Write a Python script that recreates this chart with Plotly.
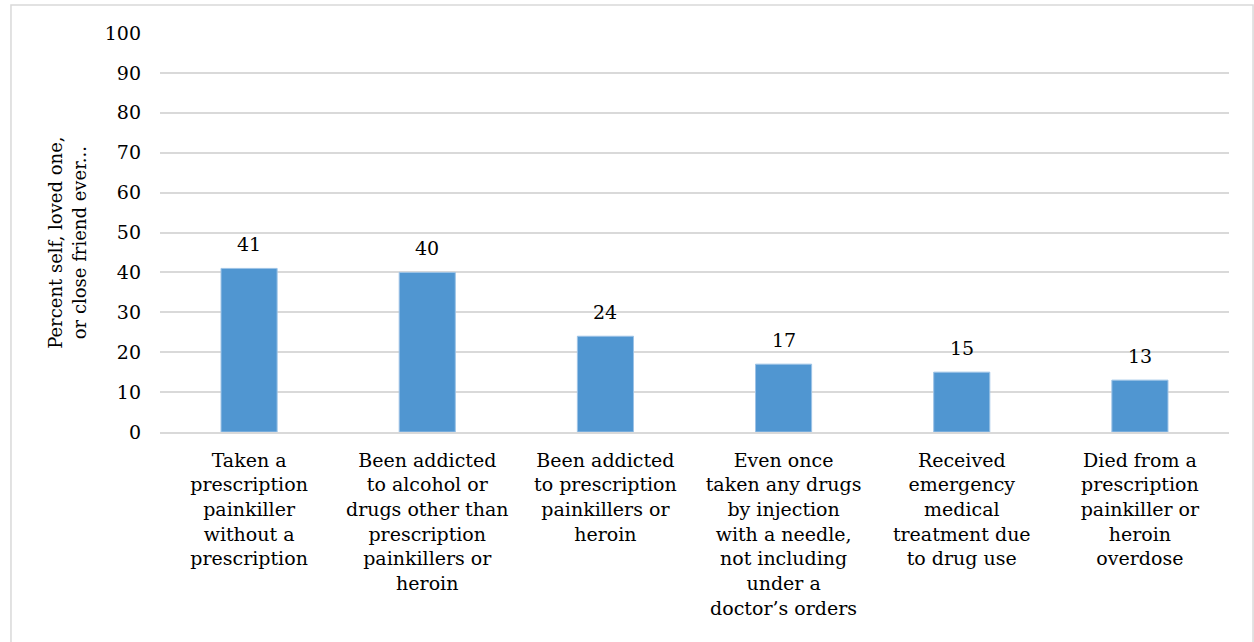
import plotly.graph_objects as go

categories = [
    "Taken a<br>prescription<br>painkiller<br>without a<br>prescription",
    "Been addicted<br>to alcohol or<br>drugs other than<br>prescription<br>painkillers or<br>heroin",
    "Been addicted<br>to prescription<br>painkillers or<br>heroin",
    "Even once<br>taken any drugs<br>by injection<br>with a needle,<br>not including<br>under a<br>doctor’s orders",
    "Received<br>emergency<br>medical<br>treatment due<br>to drug use",
    "Died from a<br>prescription<br>painkiller or<br>heroin<br>overdose",
]
values = [41, 40, 24, 17, 15, 13]
y_ticks = [0, 10, 20, 30, 40, 50, 60, 70, 80, 90, 100]
y_title = "Percent self, loved one,<br>or close friend ever..."

FONT = "DejaVu Serif"
BAR = "#5096D1"
GRID = "#D9D9D9"

fig = go.Figure()
fig.add_trace(go.Bar(
    x=list(range(len(categories))),
    y=values,
    marker=dict(color=BAR, line=dict(color="#9DC3E6", width=1)),
    width=0.315,
    hoverinfo="skip",
))

# value labels sitting above each bar
for i, v in enumerate(values):
    fig.add_annotation(x=i, y=v, text=str(v), showarrow=False,
                       yshift=24, font=dict(family=FONT, size=19, color="#000"))

# y-axis title
fig.add_annotation(xref="paper", yref="paper", x=-0.087, y=0.474,
                   xanchor="center", yanchor="middle",
                   text=y_title, textangle=-90, showarrow=False,
                   font=dict(family=FONT, size=18, color="#000"))

# chart frame
fig.add_shape(type="rect", xref="paper", yref="paper",
              x0=-0.1394, x1=1.0225, y0=-0.6, y1=1.0702,
              line=dict(color=GRID, width=1.5), layer="below")

fig.update_layout(
    width=1254, height=642,
    margin=dict(l=160, r=25, t=33, b=210),
    plot_bgcolor="white", paper_bgcolor="white",
    showlegend=False,
    font=dict(family=FONT, size=19, color="#000"),
    xaxis=dict(
        tickmode="array",
        tickvals=list(range(len(categories))),
        ticktext=categories,
        range=[-0.5, len(categories) - 0.5],
        showgrid=False, zeroline=False,
        showline=True, linecolor=GRID, linewidth=1.5,
        ticks="", tickfont=dict(family=FONT, size=19),
        ticklabelstandoff=10,
    ),
    yaxis=dict(
        range=[0, 100], tickvals=y_ticks,
        showgrid=True, gridcolor=GRID, gridwidth=1.5,
        zeroline=False, showline=False, ticks="",
        tickfont=dict(family=FONT, size=19),
        ticklabelstandoff=18,
    ),
)

fig.write_html("out.html")
